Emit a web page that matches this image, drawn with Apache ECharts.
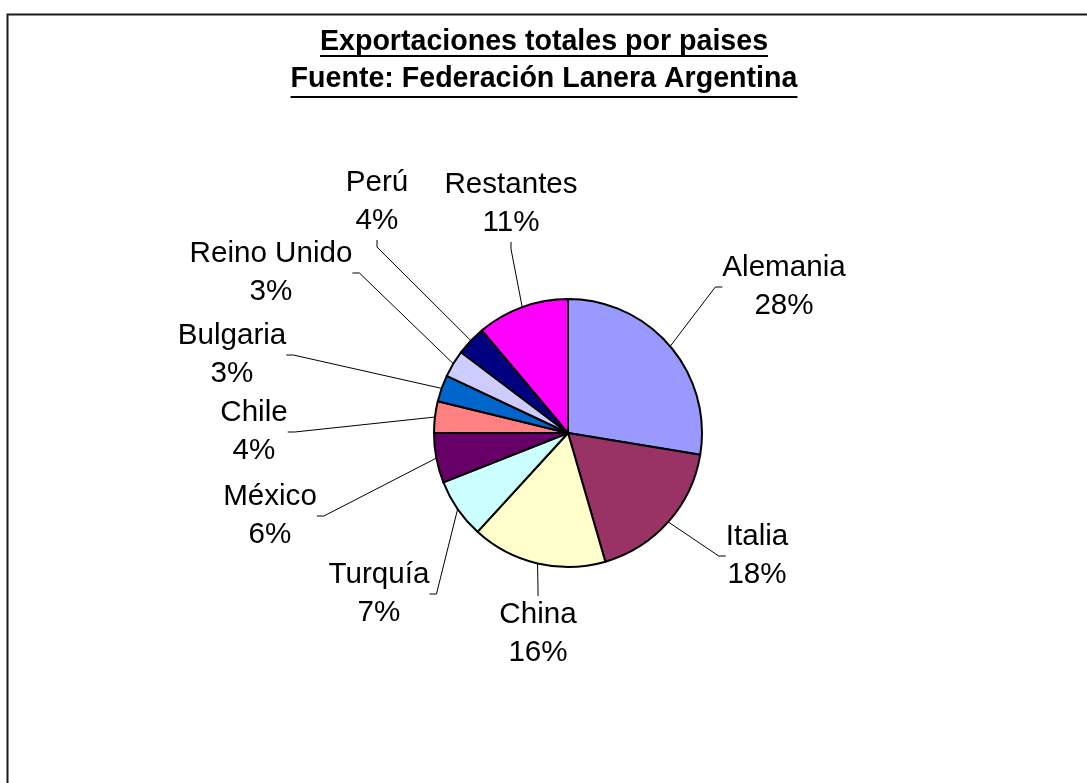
<!DOCTYPE html>
<html>
<head>
<meta charset="utf-8">
<script src="https://cdn.jsdelivr.net/npm/echarts@6/dist/echarts.min.js"></script>
<style>
  html, body { margin: 0; padding: 0; background: #fff; }
  #chart { width: 1087px; height: 783px; }
</style>
</head>
<body>
<div id="chart"></div>
<script>
// ---- data ----
const categories = ['Alemania', 'Italia', 'China', 'Turquía', 'México', 'Chile', 'Bulgaria', 'Reino Unido', 'Perú', 'Restantes'];
const values = [27.6, 17.9, 16.3, 7.2, 6.0, 3.8, 3.2, 3.3, 3.6, 11.1];
const colors = ['#9999FF', '#993366', '#FFFFCC', '#CCFFFF', '#660066', '#FF8080', '#0066CC', '#CCCCFF', '#000080', '#FF00FF'];
const titleLines = ['Exportaciones totales por paises', 'Fuente: Federación Lanera Argentina'];

// ---- layout (label block centres, px) ----
const labelPos = [
  [784, 287], [757, 556], [538, 634], [379, 594], [270, 516],
  [254, 432], [232, 355], [271, 273], [377, 202], [511, 204]
];

const FONT = '"Liberation Sans", Arial, Helvetica, sans-serif';
const chart = echarts.init(document.getElementById('chart'), null, { renderer: 'canvas' });

function textWidth(txt, font) {
  const c = document.createElement('canvas').getContext('2d');
  c.font = font;
  return c.measureText(txt).width;
}
const titleCx = 544;
const TITLE_SIZE = 28.6;
const ulY = [56, 97];
const underlines = titleLines.map((t, i) => {
  const w = textWidth(t, 'bold ' + TITLE_SIZE + 'px ' + FONT);
  return {
    type: 'line',
    shape: { x1: titleCx - w / 2, y1: ulY[i], x2: titleCx + w / 2, y2: ulY[i] },
    style: { stroke: '#000', lineWidth: 2.2 }
  };
});

const option = {
  backgroundColor: '#ffffff',
  animation: false,
  title: {
    text: titleLines.join('\n'),
    left: titleCx,
    textAlign: 'center',
    top: 24,
    padding: 0,
    textStyle: {
      fontFamily: FONT,
      fontSize: TITLE_SIZE,
      fontWeight: 'bold',
      color: '#000',
      lineHeight: 36.5
    }
  },
  graphic: [
    {
      type: 'rect',
      shape: { x: 7.5, y: 14.5, width: 1100, height: 800 },
      style: { fill: 'none', stroke: '#1a1a1a', lineWidth: 2 },
      z: 100
    }
  ].concat(underlines),
  series: [{
    type: 'pie',
    center: [568, 433],
    radius: 134,
    startAngle: 90,
    clockwise: true,
    avoidLabelOverlap: false,
    data: categories.map((n, i) => ({ name: n, value: values[i], itemStyle: { color: colors[i] } })),
    itemStyle: { borderColor: '#000', borderWidth: 2 },
    emphasis: { disabled: true },
    label: {
      show: true,
      position: 'outside',
      fontFamily: FONT,
      fontSize: 29.6,
      lineHeight: 38,
      color: '#000',
      align: 'center',
      formatter: p => p.name + '\n' + Math.round(p.percent) + '%'
    },
    labelLine: {
      show: true,
      length: 20,
      length2: 7,
      smooth: false,
      lineStyle: { color: '#000', width: 1 }
    },
    labelLayout: function (params) {
      const p = labelPos[params.dataIndex];
      return { x: p[0], y: p[1], align: 'center', verticalAlign: 'middle' };
    }
  }]
};
chart.setOption(option);
</script>
</body>
</html>
